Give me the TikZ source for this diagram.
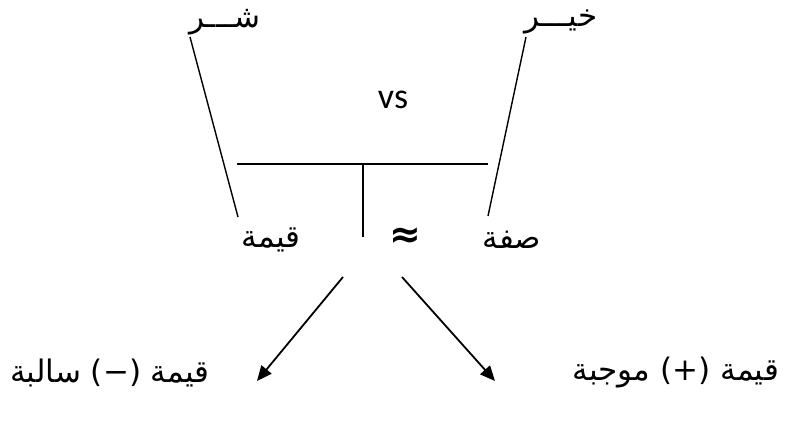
\documentclass[tikz,border=0pt]{standalone}
\usepackage{fontspec}
\TeXXeTstate=1
\newfontfamily\arabicfont[Script=Arabic]{DejaVu Sans}
\newfontfamily\vsfont{Carlito}
\newfontfamily\symfont{DejaVu Sans}
\usetikzlibrary{arrows.meta}
\begin{document}
\begin{tikzpicture}[x=1pt,y=-1pt,
  ar/.style={font=\arabicfont\fontsize{31}{36}\selectfont, inner sep=0pt},
  ln/.style={line width=1.4pt},
  arr/.style={line width=1.8pt, -{Triangle[length=15pt,width=13pt]}}]
\useasboundingbox (0,0) rectangle (785,433);
% labels
\node[ar] (shar) at (225,22) {\beginR شـــر\endR};
\node[ar] (khayr) at (561,22) {\beginR خيـــر\endR};
\node[font=\vsfont\fontsize{36}{40}\selectfont, inner sep=0pt] (vs) at (393,100) {vs};
\node[ar] (qima) at (271,240) {\beginR قيمة\endR};
\node[font=\symfont\bfseries\fontsize{38}{42}\selectfont, inner sep=0pt] (approx) at (405,238) {≈};
\node[ar] (sifa) at (512,240) {\beginR صفة\endR};
\node[ar] (neg) at (110,373) {\beginR قيمة (−) سالبة\endR};
\node[ar] (pos) at (676,373) {\beginR قيمة (+) موجبة\endR};
% coordinates
\coordinate (lt) at (190,37);
\coordinate (lb) at (238,217);
\coordinate (rt) at (526,37);
\coordinate (rb) at (488,216);
\coordinate (hl) at (237,164);
\coordinate (hr) at (488,164);
\coordinate (hm) at (363,164);
\coordinate (vb) at (363,237);
\coordinate (a1s) at (343,277);
\coordinate (a1e) at (257,381);
\coordinate (a2s) at (402,277);
\coordinate (a2e) at (495,381);
% lines
\draw[ln] (lt) -- (lb);
\draw[ln] (rt) -- (rb);
\draw[ln] (hl) -- (hr);
\draw[ln] (hm) -- (vb);
\draw[arr] (a1s) -- (a1e);
\draw[arr] (a2s) -- (a2e);
\end{tikzpicture}
\end{document}
